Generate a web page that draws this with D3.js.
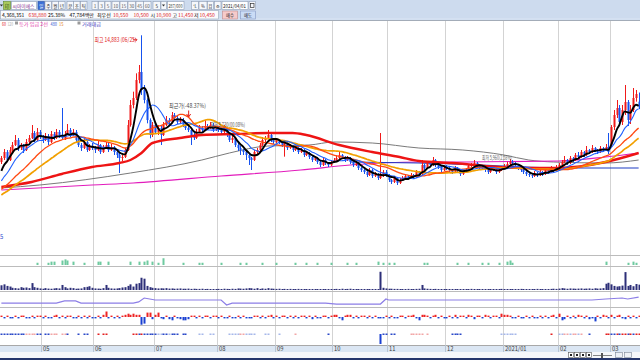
<!DOCTYPE html>
<html><head><meta charset="utf-8">
<script src="https://cdn.jsdelivr.net/npm/d3@7"></script>
<style>body{margin:0;background:#fff;overflow:hidden}svg{display:block}</style>
</head><body><svg id="c" width="640" height="360"></svg>
<script>
// ---------- DATA ----------
const monthLabels = ["05","06","07","08","09","10","11","12","2021/01","02","03"];
const monthStart  = [15,34,56,79,100,121,141,162,183,203,222];

const open = [7280,7520,7880,7400,8000,8300,8600,8120,8300,8000,
8480,8720,9020,8600,9080,8780,8600,8840,8480,8960,
8720,9080,8840,8720,8960,9200,8900,9080,8600,8300,
8120,8480,8000,8240,8120,8000,8300,7880,8120,8300,
8000,8180,7880,7700,7520,7580,8000,9500,10700,11120,
12200,12680,11600,11000,9800,8900,9500,9080,9320,8900,
9500,9800,9680,10100,9920,9680,9800,9500,9320,9200,
8900,8720,9080,9320,9200,9440,9320,9500,9200,9320,
9200,9080,9320,8900,8600,8720,8300,8120,8000,7880,
7700,7520,7400,7880,8000,8300,8600,8720,8900,8600,
8480,8600,8480,8300,8420,8120,8240,8000,8120,7880,
8000,7700,7820,7580,7400,7520,7280,7100,7400,7220,
7100,7280,7400,7520,7700,7580,7400,7520,7280,7100,
7220,6920,6800,6680,6500,6800,6440,6560,6320,6440,
6680,6500,6200,6080,6320,6020,6200,6320,6440,6320,
6500,6380,6680,6560,7100,6920,7220,7100,7400,7100,
6980,6800,6980,6920,6800,6680,6920,6800,6560,6680,
6800,7040,7100,7220,7100,6980,6920,6800,6680,6800,
6920,6680,6800,6920,7040,7160,7280,7220,7100,6920,
6800,6680,6560,6500,6440,6620,6500,6680,6560,6800,
6680,6920,6800,6980,7100,7280,7400,7220,7520,7400,
7700,7580,7880,7700,8000,7880,8120,8000,7880,8120,
8000,8180,8300,9380,10100,10520,9680,10400,10880,9800,
10400,11120,10900];
const high = [7640,8060,8000,8180,8480,8900,8720,8420,8360,8660,
8900,9500,9140,9320,9200,8900,9020,8960,9140,9080,
9260,9200,10520,9140,9560,9320,9260,9200,8720,8420,
8660,8540,8360,8420,8240,8540,8360,8300,8480,8420,
8360,8240,8000,7820,7700,8120,9800,11000,11500,12600,
13100,14883,11900,11100,9900,9680,9620,9500,9440,9680,
10040,9920,10280,10220,10040,9980,9920,9620,9440,9260,
9020,9260,9500,9440,9800,9560,9680,9620,9440,9440,
9320,9500,9380,9020,8840,8780,8420,8240,8060,7940,
7760,7580,8000,8120,8420,8780,8840,9200,8960,8720,
8720,8660,8540,8540,8480,8360,8300,8240,8180,8120,
8060,7940,7880,7640,7640,7580,7340,7520,7460,7280,
7400,7520,7640,7880,7760,7640,7640,7580,7340,7340,
7280,6980,6860,6740,6920,6860,6680,6620,9020,6800,
6800,6560,6260,6440,6380,6320,6440,6560,6500,6620,
6560,6800,6740,7400,7160,7340,7280,7580,7460,7160,
7040,7040,7100,6980,6860,7040,6980,6860,6800,6920,
7160,7220,7400,7280,7160,7040,6980,6860,6920,7040,
6980,6920,7040,7160,7280,7460,7400,7280,7160,6980,
6860,6740,6620,6560,6740,6680,6800,6740,6920,6860,
7040,6980,7100,7220,7400,7640,7460,7640,7580,7820,
7880,8000,7940,8240,8060,8300,8180,8060,8240,8180,
8360,9020,9500,10400,11000,10700,10700,11900,11000,10700,
11720,11600,11450];
const low = [7160,7400,7280,7340,7880,8240,7940,8000,7820,7940,
8420,8660,8480,8540,8660,8420,8540,8300,8420,8600,
8660,8720,8600,8600,8900,8780,8840,8480,8180,7940,
8060,7880,7940,8000,7820,7940,7760,7820,8060,7880,
7940,7700,7520,6620,7340,7520,7940,9400,10500,11000,
12000,11300,10800,9600,8700,8780,8960,8900,8300,8840,
9440,9560,9620,9800,9560,9620,9380,9200,9080,8300,
8600,8660,9020,9080,9140,9200,9260,9080,9140,9080,
8960,9020,8780,8480,8420,8180,7940,7700,7700,7400,
7100,6800,7340,7760,7940,8240,8480,8660,8480,8360,
8420,8360,8180,7600,8000,8060,7880,7940,7760,7820,
7580,7640,7460,7280,7340,7160,6980,7040,7100,6980,
7040,7220,7340,7460,7460,7280,7340,7160,6980,7040,
6800,6680,6560,6380,6440,6320,6380,6200,6260,6380,
6380,6080,5960,6020,5900,5960,6140,6260,6200,6260,
6260,6320,6440,6500,6800,6860,6980,7040,6980,6860,
6680,6740,6800,6680,6560,6620,6680,6440,6500,6620,
6740,6980,7040,6980,6860,6800,6680,6560,6620,6740,
6560,6620,6740,6860,6980,7100,7100,6980,6800,6680,
6560,6440,6380,6320,6380,6380,6440,6440,6500,6560,
6620,6680,6740,6920,7040,7220,7100,7160,7280,7340,
7460,7520,7580,7640,7760,7820,7880,7760,7820,7880,
7940,7760,8180,9200,9920,9440,9500,10100,9440,9560,
10280,10900,10450];
const close = [7520,7880,7400,8000,8300,8600,8120,8300,8000,8480,
8720,9020,8600,9080,8780,8600,8840,8480,8960,8720,
9080,8840,8720,8960,9200,8900,9080,8600,8300,8120,
8480,8000,8240,8120,8000,8300,7880,8120,8300,8000,
8180,7880,7700,7520,7580,8000,9500,10700,11120,12200,
12680,11600,11000,9800,8900,9500,9080,9320,8900,9500,
9800,9680,10100,9920,9680,9800,9500,9320,9200,8900,
8720,9080,9320,9200,9440,9320,9500,9200,9320,9200,
9080,9320,8900,8600,8720,8300,8120,8000,7880,7700,
7520,7400,7880,8000,8300,8600,8720,8900,8600,8480,
8600,8480,8300,8420,8120,8240,8000,8120,7880,8000,
7700,7820,7580,7400,7520,7280,7100,7400,7220,7100,
7280,7400,7520,7700,7580,7400,7520,7280,7100,7220,
6920,6800,6680,6500,6800,6440,6560,6320,6440,6680,
6500,6200,6080,6320,6020,6200,6320,6440,6320,6500,
6380,6680,6560,7100,6920,7220,7100,7400,7100,6980,
6800,6920,6920,6800,6680,6920,6800,6560,6680,6800,
7040,7100,7220,7100,6980,6920,6800,6680,6800,6920,
6680,6800,6920,7040,7160,7280,7220,7100,6920,6800,
6680,6560,6500,6440,6620,6500,6680,6560,6800,6680,
6920,6800,6980,7100,7280,7400,7220,7520,7400,7700,
7580,7880,7700,8000,7880,8120,8000,7880,8120,8000,
8180,7880,9380,10100,10520,9680,10400,10880,9800,10400,
11120,11360,10550];
const priorClose = [4400,4450,4500,4480,4550,4600,4650,4700,4750,4800,
4850,4900,4950,5000,5050,5100,5150,5200,5250,5300,
5350,5400,5450,5500,5600,5800,6100,6400,6700,7000];

const volume = [1500,1800,1300,1100,700,600,500,900,700,800,
600,2200,900,700,500,400,600,450,400,500,
600,500,1600,900,500,700,600,400,450,500,
900,1000,1200,700,500,450,400,600,1600,700,
500,450,500,600,800,900,1300,1800,1100,2000,
2200,3900,3600,1300,900,700,600,500,550,500,
600,450,500,400,450,500,400,400,450,350,
400,350,350,400,300,350,300,300,250,350,
300,400,350,300,400,350,500,450,400,500,
600,550,400,600,350,500,400,600,450,400,
350,400,300,350,300,350,300,300,350,300,
300,250,300,300,250,300,300,250,300,300,
300,300,350,300,400,300,350,400,300,300,
250,300,250,300,250,300,250,300,5800,700,
500,400,400,350,350,300,300,300,350,300,
300,350,400,1600,500,400,350,300,350,300,
300,250,300,300,250,300,300,250,300,300,
300,350,300,300,250,300,300,250,300,250,
300,300,350,300,300,300,250,300,300,350,
300,300,250,300,300,350,300,300,250,300,
350,400,350,450,600,500,400,500,450,400,
450,500,400,450,500,400,550,450,500,600,
2000,2300,1800,1300,1100,1200,1400,5700,1300,1600,
1200,1900,1700];

const netFlow = [1,-1,1,-1,-1,1,-1,1,1,-1,
-1,1,-1,1,1,-1,1,-1,-1,1,
2,-1,1,-1,1,1,-1,-1,1,-1,
1,-1,1,-1,-1,1,-1,2,5,-1,
1,-1,1,-1,1,2,3,2,3,2,
2,-7,-6,4,4,-2,2,4,-1,-2,
1,-2,-3,1,-1,-2,-3,-3,-2,1,
1,-1,1,-1,1,1,-1,1,1,-1,
1,-1,-1,1,-1,-1,1,-1,1,-1,
-1,-1,1,1,-1,1,-1,1,2,-1,
1,-1,1,1,-1,1,-1,1,-1,1,
1,-1,1,-2,1,-1,-1,1,1,-1,
1,2,2,-1,-3,1,2,2,-1,1,
-1,1,1,-1,1,-1,1,-1,-1,-1,
1,-1,1,-1,-1,1,1,-1,1,1,
2,-1,-3,2,2,1,-1,1,2,-1,
1,-1,-1,1,-1,2,-1,1,1,-1,
2,1,-2,1,1,-1,2,1,-1,1,
1,-1,3,2,2,1,-1,-1,1,-1,
-1,1,-1,1,-1,-1,1,-1,1,-1,
1,2,-1,3,-3,-2,1,-1,1,-1,
2,1,-1,1,-2,-1,-4,1,-1,2,
1,-1,2,-1,1,2,-1,-2,1,-1,
1,-1,1];

const program = [-2,-2,-2,-2,-2,-2,-2,-2,-2,1,
1,1,1,-2,-2,0,-2,-2,1,1,
1,0,1,1,-2,0,0,0,-2,0,
-2,-2,0,0,0,2,0,2,2,0,
0,0,0,0,0,0,0,0,2,2,
-2,2,-2,-2,-2,-2,-2,-1,-1,-2,
-2,-1,-2,-2,-2,0,-2,-2,0,0,
0,0,-1,-1,0,0,-1,-1,0,0,
0,0,0,-1,-1,-1,-1,1,1,-1,
-1,-1,-1,0,0,0,-1,-1,0,0,
0,-1,0,0,0,0,0,1,0,0,
0,0,0,0,0,0,0,0,0,-2,
0,0,0,0,0,0,0,0,0,0,
0,0,0,0,0,0,0,0,-10,-2,
-2,0,-2,-2,0,0,0,0,0,1,
1,1,1,1,0,1,0,0,0,0,
0,0,0,0,-2,-2,-2,-2,0,0,
0,0,0,0,0,0,0,0,0,0,
0,0,-1,-1,-1,-1,-1,-1,0,0,
0,0,0,0,0,0,0,0,0,0,
2,0,0,-1,-1,1,1,-1,1,1,
-1,1,0,0,-2,0,0,0,0,0,
2,2,-2,-2,2,-2,2,2,-2,2,
-2,2,2];

const greenIdx = [13,17,18,19,22,23,24,26,30,35,36,39,47,50,52,53,55,57,59,66,72,73,80,87,89,95,100,107,111,115,120,126,129,137,139,141,143,154,155,166,170,175,177,181,184,185,186,220,228,230,231];
const greenVal = [2,2,3,3,4,5,4,3,2,3,3,3,3,3,3,4,3,2,6,2,2,2,2,2,2,2,2,2,2,2,2,2,2,3,2,2,2,2,2,2,2,2,2,2,3,4,2,3,2,3,2];

const foreignIdx = [0,20,23,27,29,48,50,52,54,56,78,80,82,84,118,122,138,140,141,215,220,226,228,232];
const foreignVal = [42.1,42.1,43.6,43.6,42.1,42.1,42.9,45.7,45.0,44.3,44.3,44.3,40.7,42.1,42.1,41.4,41.4,45.0,44.3,44.3,45.0,45.7,45.0,46.4];

const redIdx  = [0,11,22,33,43,47,51,55,65,73,85,97,106,111,123,135,145,152,164,189,203,220,232];
const redVal  = [5780,6080,6560,6980,7220,7400,7820,8420,8720,8900,8960,9020,9020,8900,8300,7880,7580,7340,7220,6920,6920,7280,7820];
const grayIdx = [0,14,47,73,83,97,112,121,135,152,168,183,192,201,220,232];
const grayVal = [5720,5900,6620,7400,7820,8240,8300,8480,8420,8120,8000,7700,7400,7280,7220,7400];
const pinkIdx = [0,33,48,80,109,127,152,164,203,220,232];
const pinkVal = [5600,5900,6020,6440,6800,7100,7280,7280,7340,7580,7820];
const navyIdx = [127,152,183,201,232];
const navyVal = [7280,7220,7040,6920,6920];

const maPeriods = [30,20,10,5];
const maColors  = ["#f2a000","#ff4a12","#2262ff","#000000"];
const maWidths  = [1.7,1.3,1.1,1.9];

const notes = [
 {idx:51, price:14883, text:"최고 14,883 (06/25)", color:"#e0201c", w:42},
 {idx:61, price:10550, text:"최근가(-48.37%)", color:"#444", w:37},
 {idx:76, price:9380, text:"최저 8,730(00.08%)", color:"#555", w:35},
 {idx:175, price:7400, text:"최저 5,960(2.58%)", color:"#666", w:30}
];

const periodBtns = ["일","주","월","년","분","초","틱"];
const minuteBtns = ["1","3","5","10","15","30","45","60"];
const quote = [
 {t:"4,368,351",c:"#000",x:2},{t:"638,880",c:"#e0201c",x:28.5},{t:"25.38%",c:"#000",x:48},
 {t:"47,784백만",c:"#000",x:69.5},{t:"최우선",c:"#000",x:97},{t:"10,550",c:"#e0201c",x:113},
 {t:"10,500",c:"#e0201c",x:133.5},{t:"시",c:"#000",x:150.5},{t:"10,900",c:"#e0201c",x:156},
 {t:"고",c:"#000",x:172.5},{t:"11,450",c:"#e0201c",x:178},{t:"저",c:"#000",x:194},
 {t:"10,450",c:"#e0201c",x:199.5}];
const legendItems = [
 {t:"60",c:"#e0201c",x:2,w:4},{t:"120",c:"#a8a8a8",x:7.5,w:5.5},
 {t:"등가 임금 2선",c:"#e03ca8",x:19,w:29},{t:"480",c:"#3050d0",x:50.5,w:6.5},{t:"15",c:"#e08020",x:59,w:4.5},
 {t:"거래대금",c:"#4040c0",x:82,w:19}];
const legendSwatch = [15,77.5];

// ---------- CHART ----------
const W=640,H=360,n=close.length;
const FONT='"Noto Sans CJK KR","Noto Sans",sans-serif';
const svg=d3.select("#c");
const x=d3.scaleLinear().domain([-0.5,n-0.5]).range([0,W]);
const y=d3.scaleLinear().domain([2000,15800]).range([250,20]);

svg.append("rect").attr("width",W).attr("height",H).attr("fill","#fff");

// vertical grid
const grid=svg.append("g");
monthStart.forEach(m=>{
  const gx=Math.round(x(m-0.5))+0.5;
  grid.append("line").attr("x1",gx).attr("x2",gx).attr("y1",20).attr("y2",345).attr("stroke","#d3d3d3");
});
[255,266,291,307,325].forEach(py=>{
  svg.append("line").attr("x1",0).attr("x2",W).attr("y1",py+0.5).attr("y2",py+0.5).attr("stroke","#bcbcbc");
});

// long average lines
const pair=(I,V)=>I.map((k,j)=>[k,V[j]]);
const lineP=d3.line().x(d=>x(d[0])).y(d=>y(d[1])).curve(d3.curveMonotoneX);
const longs=[[grayIdx,grayVal,"#7a7a7a",1],[pinkIdx,pinkVal,"#e21cbc",1.2],[navyIdx,navyVal,"#1f3cc4",1.2]];
longs.forEach(([I,V,c,w])=>svg.append("path").attr("d",lineP(pair(I,V))).attr("fill","none").attr("stroke",c).attr("stroke-width",w));

// candles
const cg=svg.append("g");
close.forEach((c,i)=>{
  const o=open[i],up=c>=o,col=up?"#f01a1a":"#1652ef";
  const cx=Math.round(x(i))+0.5;
  cg.append("line").attr("x1",cx).attr("x2",cx).attr("y1",y(high[i])).attr("y2",y(low[i])).attr("stroke",col).attr("stroke-width",1);
  const top=Math.min(y(o),y(c)),h=Math.max(1,Math.abs(y(o)-y(c)));
  cg.append("rect").attr("x",cx-1).attr("y",top).attr("width",2).attr("height",h).attr("fill",col);
});

// thick red long line
svg.append("path").attr("d",lineP(pair(redIdx,redVal))).attr("fill","none").attr("stroke","#ee1414").attr("stroke-width",2.4);

// computed moving averages
const allClose=priorClose.concat(close);
maPeriods.forEach((p,k)=>{
  const pts=close.map((c,i)=>{const e=i+priorClose.length;return [i,d3.mean(allClose.slice(e-p+1,e+1))];});
  svg.append("path").attr("d",d3.line().x(d=>x(d[0])).y(d=>y(d[1])).curve(d3.curveMonotoneX)(pts))
    .attr("fill","none").attr("stroke",maColors[k]).attr("stroke-width",maWidths[k]);
});

// notes
notes.forEach((nt,k)=>{
  const t=svg.append("text").attr("font-family",FONT).attr("font-size",5.8).attr("fill",nt.color)
    .attr("textLength",nt.w).attr("lengthAdjust","spacingAndGlyphs").text(nt.text);
  if(k===0){ t.attr("x",x(nt.idx)-5-nt.w).attr("y",y(nt.price)+6.5);
    const ax=x(nt.idx)-4.5,ay=y(nt.price)+4.5;
    svg.append("path").attr("d",`M${ax-4},${ay}L${ax},${ay}M${ax-1.5},${ay-1.5}L${ax},${ay}L${ax-1.5},${ay+1.5}`).attr("stroke","#e0201c").attr("fill","none").attr("stroke-width",0.9);
  } else { t.attr("x",x(nt.idx)).attr("y",y(nt.price)); }
  if(k===1){ const ax=x(68)+0.5,ay=y(nt.price)+3;
    svg.append("path").attr("d",`M${ax},${ay}L${ax},${ay+6}M${ax-2},${ay+3.5}L${ax},${ay+6.5}L${ax+2},${ay+3.5}`).attr("stroke","#e0201c").attr("fill","none").attr("stroke-width",1);
  }
});
svg.append("text").attr("x",0).attr("y",239).attr("font-family",FONT).attr("font-size",6).attr("fill","#3050d0").text("5");

// legend row
legendItems.forEach(d=>svg.append("text").attr("x",d.x).attr("y",26).attr("font-family",FONT).attr("font-size",5)
  .attr("fill",d.c).attr("textLength",d.w).attr("lengthAdjust","spacingAndGlyphs").text(d.t));
legendSwatch.forEach(sx=>svg.append("rect").attr("x",sx).attr("y",21.5).attr("width",3).attr("height",3).attr("fill","#9a9a9a"));

// green panel
const gy=d3.scaleLinear().domain([0,8]).range([265,256]);
greenIdx.forEach((k,j)=>svg.append("rect").attr("x",Math.round(x(k))-0.5).attr("y",gy(greenVal[j])).attr("width",2)
  .attr("height",265-gy(greenVal[j])).attr("fill","#6fcaa0"));

// volume panel
const vy=d3.scaleLinear().domain([0,7000]).range([290,268]);
volume.forEach((v,i)=>{const h=Math.max(1,290-vy(v));
  svg.append("rect").attr("x",Math.round(x(i))-0.5).attr("y",290-h).attr("width",2).attr("height",h).attr("fill","#2d2f78");});

// foreign ratio line
const fy=d3.scaleLinear().domain([40,50]).range([306,292]);
svg.append("path").attr("d",d3.line().x(d=>x(d[0])).y(d=>fy(d[1]))(pair(foreignIdx,foreignVal)))
  .attr("fill","none").attr("stroke","#8c7ee6").attr("stroke-width",1.2);

// net flow bars
netFlow.forEach((v,i)=>{const h=Math.max(1.4,Math.abs(v)*1.1);
  svg.append("rect").attr("x",Math.round(x(i))-0.5).attr("y",v>0?317-h:317).attr("width",2).attr("height",h)
    .attr("fill",v>0?"#ee2424":"#1a40d2");});

// program dots
const progColor={"2":"#e42020","1":"#f2a6a6","-1":"#a6b8ea","-2":"#2a48c8"};
program.forEach((v,i)=>{ if(v===0) return;
  const px=Math.round(x(i))-0.5;
  if(Math.abs(v)<=2) svg.append("rect").attr("x",px).attr("y",333.5).attr("width",2).attr("height",1.5).attr("fill",progColor[String(v)]);
  else svg.append("rect").attr("x",px).attr("y",v<0?334:334-Math.abs(v)).attr("width",2).attr("height",Math.abs(v)).attr("fill",v<0?"#1a40d2":"#ee2424");
});

// date axis band
svg.append("rect").attr("x",0).attr("y",345).attr("width",W).attr("height",7).attr("fill","#dbe6f3");
svg.append("line").attr("x1",0).attr("x2",W).attr("y1",345.5).attr("y2",345.5).attr("stroke","#a8a8a8");
monthStart.forEach((m,k)=>{
  const gx=Math.round(x(m-0.5))+0.5;
  svg.append("line").attr("x1",gx).attr("x2",gx).attr("y1",345).attr("y2",352).attr("stroke","#b8c4d4");
  svg.append("text").attr("x",gx+1.5).attr("y",351).attr("font-family",FONT).attr("font-size",5.8).attr("fill","#3a3a3a").text(monthLabels[k]);
});
svg.append("rect").attr("x",0).attr("y",352).attr("width",W).attr("height",6).attr("fill","#f6f7fa");
svg.append("rect").attr("x",0).attr("y",358).attr("width",W).attr("height",2).attr("fill","#26366c");
[568,574,580,586].forEach(bx=>{
  svg.append("rect").attr("x",bx+0.5).attr("y",352.5).attr("width",5).attr("height",5).attr("fill","#fff").attr("stroke","#555").attr("stroke-width",0.6);
  svg.append("rect").attr("x",bx+2).attr("y",354).attr("width",2).attr("height",2).attr("fill","#222");
});
svg.append("line").attr("x1",593).attr("x2",612).attr("y1",355.5).attr("y2",355.5).attr("stroke","#555").attr("stroke-width",0.7);
svg.append("rect").attr("x",601).attr("y",353).attr("width",2).attr("height",5).attr("fill","#555");
[615,624].forEach(bx=>svg.append("rect").attr("x",bx+0.5).attr("y",352.5).attr("width",7).attr("height",5).attr("fill","#eef1f6").attr("stroke","#7a8496").attr("stroke-width",0.6));

// ---------- HEADER ----------
const hd=svg.append("g");
hd.append("rect").attr("x",0).attr("y",0).attr("width",W).attr("height",20).attr("fill","#cddbee");
hd.append("line").attr("x1",0).attr("x2",W).attr("y1",19).attr("y2",19).attr("stroke","#dae5f4");
hd.append("line").attr("x1",0).attr("x2",W).attr("y1",20.5).attr("y2",20.5).attr("stroke","#a3acb8");
function box(bx,w,o={}){
  hd.append("rect").attr("x",bx+0.5).attr("y",o.y||1.5).attr("width",w).attr("height",o.h||8)
    .attr("fill",o.fill||"#f5f7fb").attr("stroke",o.stroke||"#8e9db4").attr("stroke-width",0.6);
}
function btn(bx,w,t,o={}){
  box(bx,w,o);
  const tw=o.tw||Math.min(w-1.5,t.length*3.2);
  hd.append("text").attr("x",bx+0.5+(w-tw)/2).attr("y",(o.y||1.5)+(o.h||8)-2)
    .attr("font-family",FONT).attr("font-size",o.fs||4.4).attr("fill",o.color||"#222")
    .attr("textLength",tw).attr("lengthAdjust","spacingAndGlyphs").text(t);
}
function tri(cx,cy){hd.append("path").attr("d",`M${cx-1.6},${cy-1}L${cx+1.6},${cy-1}L${cx},${cy+1}Z`).attr("fill","#333");}
tri(1.5,5.5);
btn(3,7,"印",{fill:"#a9c95c",stroke:"#5f8a2c",color:"#2c4a10",tw:4.5});
box(11,25,{fill:"#fff"});
hd.append("text").attr("x",12.5).attr("y",7.8).attr("font-family",FONT).attr("font-size",4.6).attr("fill","#7a2a8e")
  .attr("textLength",22).attr("lengthAdjust","spacingAndGlyphs").text("씨아이에스");
const pX=[37.5,44.5,51.5,58,66.5,73,80];
periodBtns.forEach((t,k)=>btn(pX[k],6.5,t,k===0?{fill:"#3b6fd6",stroke:"#2a54a8",color:"#fff",tw:4.2}:{tw:4.2}));
const mX=[91.5,98,104.5,111.5,119.5,127.5,135.5,143];
minuteBtns.forEach((t,k)=>btn(mX[k],t.length>1?7.5:6,t,{color:"#555",tw:t.length>1?5:2.6}));
btn(152.5,7.5,"5",{tw:2.6});
box(160.5,5.5);tri(163.5,5.5);
box(167,16.5,{fill:"#fff"});
hd.append("text").attr("x",168.5).attr("y",7.8).attr("font-family",FONT).attr("font-size",5).attr("fill","#333")
  .attr("textLength",14).attr("lengthAdjust","spacingAndGlyphs").text("287/600");
btn(191,7,"'L",{tw:3.5});btn(198.5,8,"%",{tw:3.5});btn(207,6,"目",{tw:3.8});btn(214,6.5,"⚙",{tw:4});
box(221.5,26,{fill:"#fff"});
hd.append("text").attr("x",223).attr("y",7.8).attr("font-family",FONT).attr("font-size",5.2).attr("fill","#222")
  .attr("textLength",23).attr("lengthAdjust","spacingAndGlyphs").text("2021/04/01");
box(248.5,6.5);
hd.append("rect").attr("x",250.5).attr("y",3.5).attr("width",3.5).attr("height",4).attr("fill","none").attr("stroke","#333").attr("stroke-width",0.7);

// row 2
hd.append("rect").attr("x",0.5).attr("y",10.5).attr("width",218).attr("height",8.5).attr("fill","#fafbfd").attr("stroke","#98a6ba").attr("stroke-width",0.6);
quote.forEach(d=>hd.append("text").attr("x",d.x).attr("y",17.2).attr("font-family",FONT).attr("font-size",5)
  .attr("fill",d.c).text(d.t));
btn(222,15,"매수",{y:11,h:8,fill:"#f6caca",stroke:"#c08a8a",color:"#222",tw:8,fs:4.8});
btn(240,15,"매도",{y:11,h:8,fill:"#cadcf6",stroke:"#8496c4",color:"#222",tw:8,fs:4.8});
</script></body></html>
